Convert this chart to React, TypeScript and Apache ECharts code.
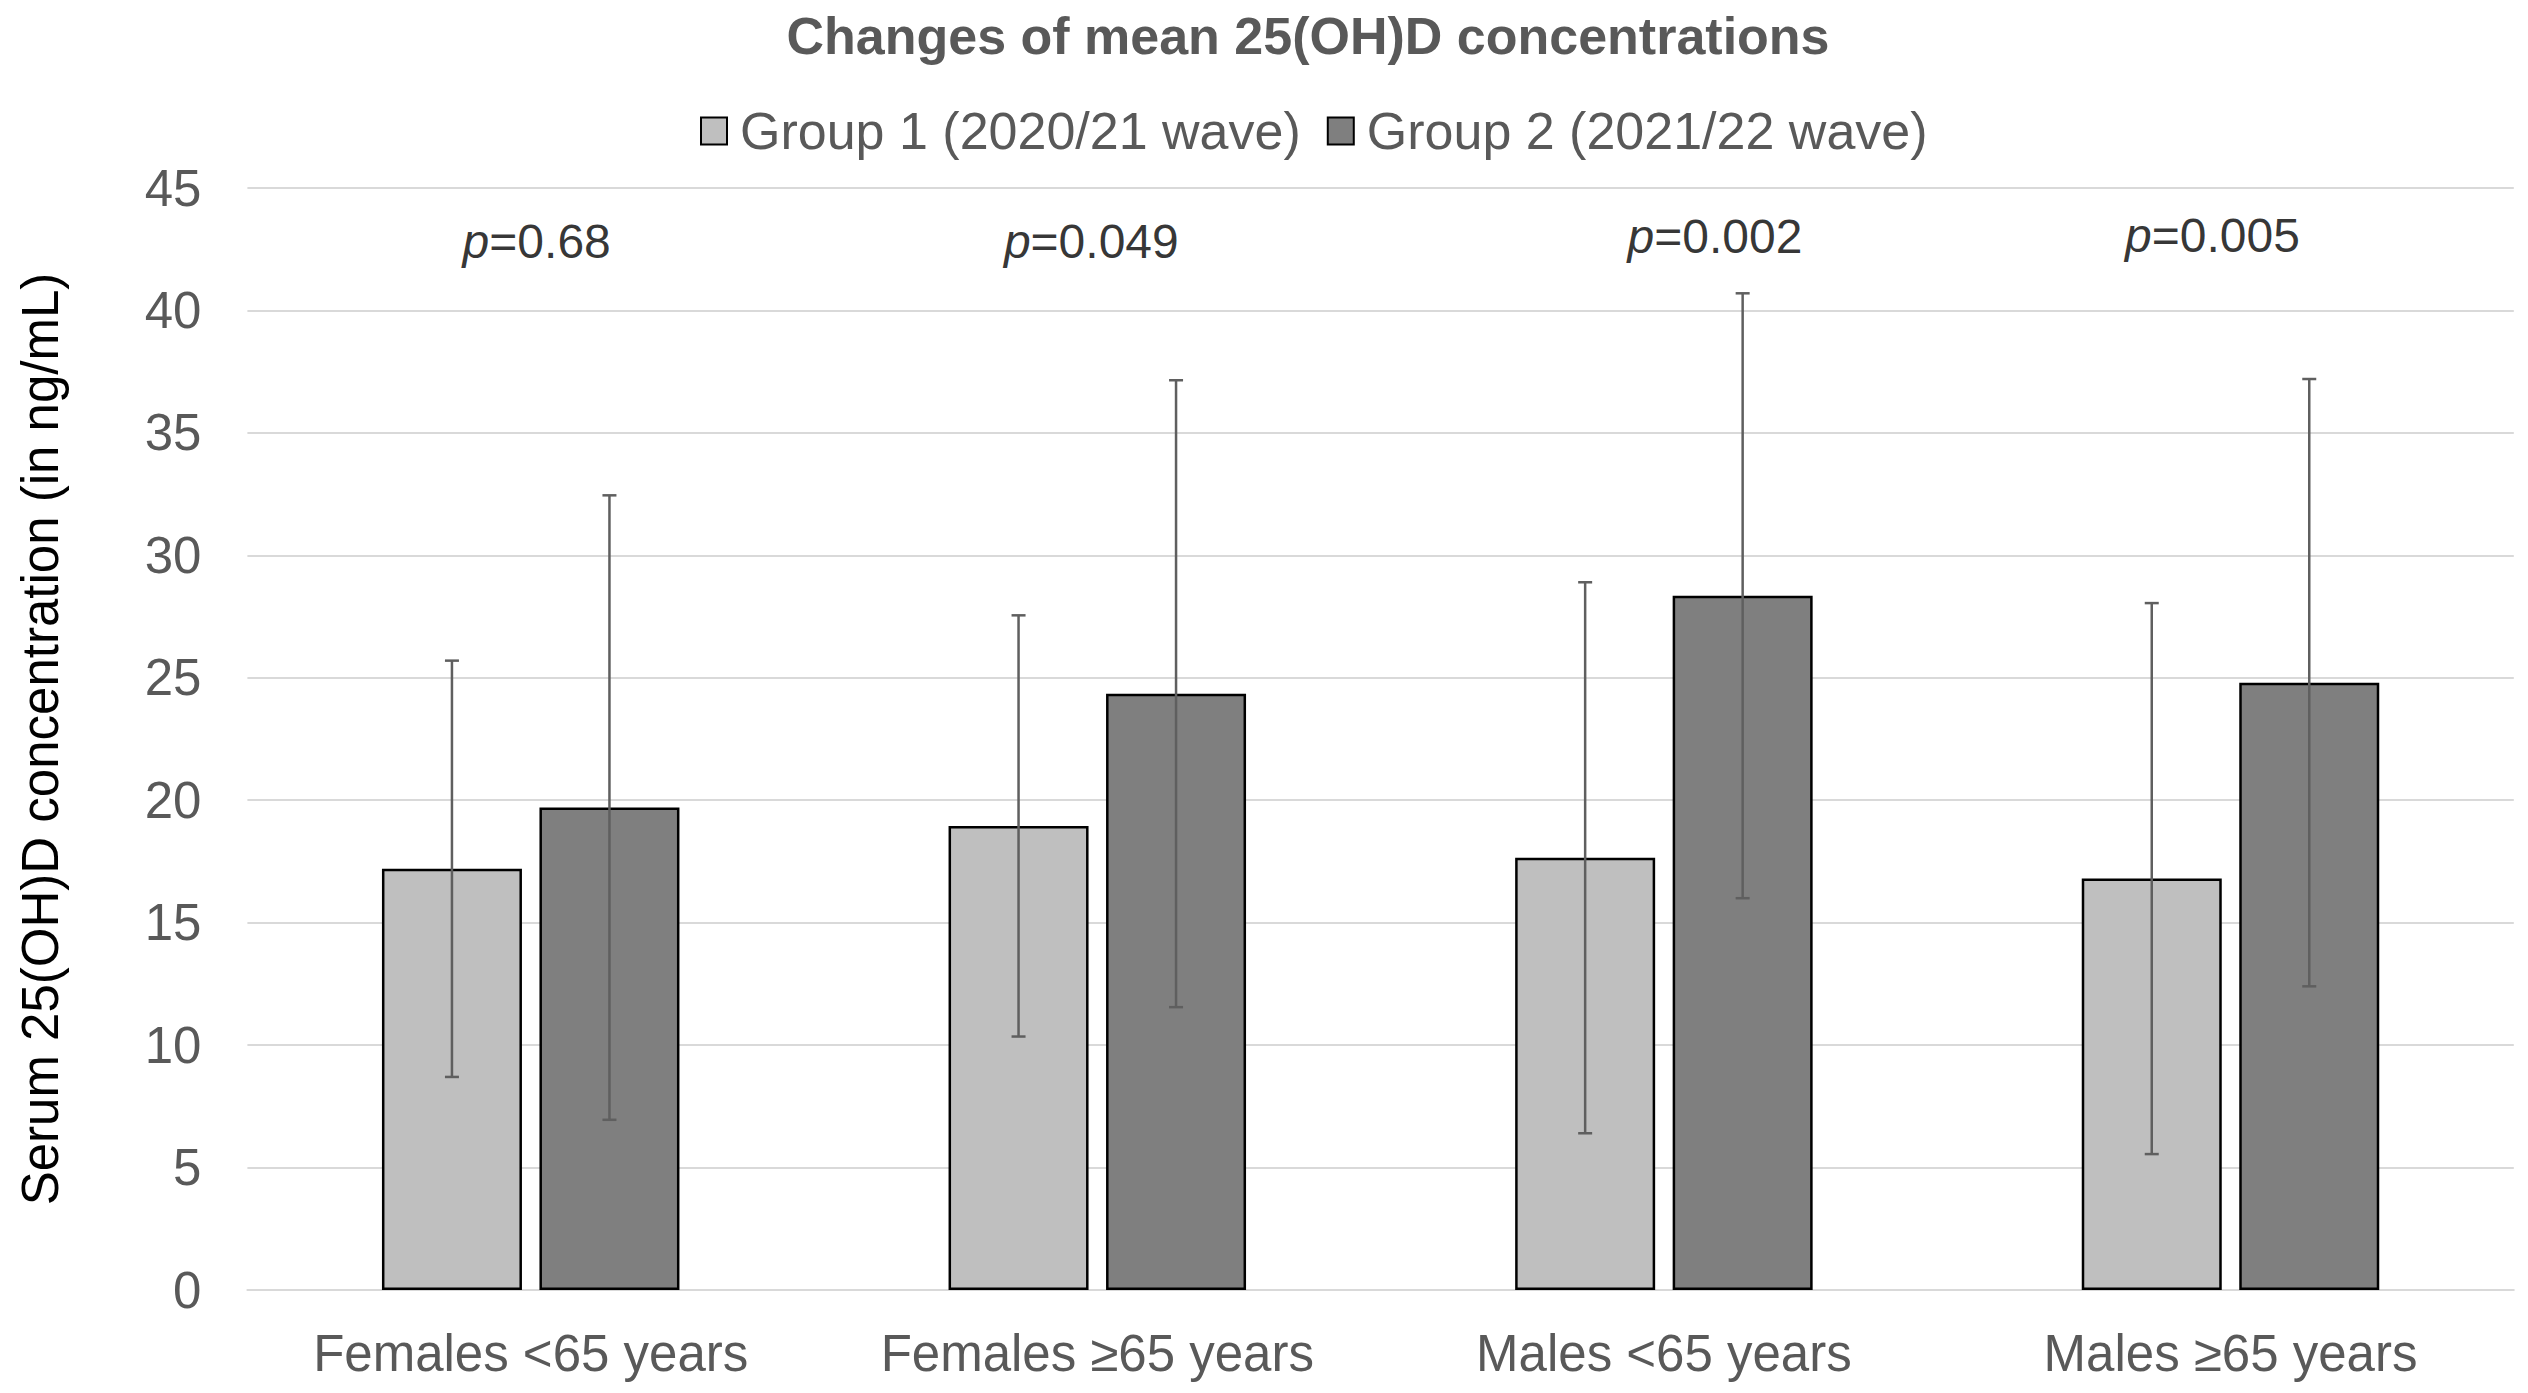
import React, { useEffect, useRef } from "react";
import * as echarts from "echarts";

const categories = ["Females <65 years", "Females ≥65 years", "Males <65 years", "Males ≥65 years"];
const seriesNames = ["Group 1 (2020/21 wave)", "Group 2 (2021/22 wave)"];
const group1Mean = [17.2, 18.95, 17.65, 16.8];
const group1SD = [8.5, 8.6, 11.25, 11.25];
const group2Mean = [19.7, 24.35, 28.35, 24.8];
const group2SD = [12.75, 12.8, 12.35, 12.4];
const pValues = ["0.68", "0.049", "0.002", "0.005"];
const yMin = 0;
const yMax = 45;
const yInterval = 5;

const FONT = '"Liberation Sans", Arial, sans-serif';
const BAR_W = 140;
const BAR_GAP = 0.125;

export default function App() {
  const ref = useRef<HTMLDivElement>(null);
  useEffect(() => {
    if (!ref.current) return;
    const chart = echarts.init(ref.current, null, { renderer: "svg" });
    const offset = (BAR_W + BAR_W * BAR_GAP) / 2;
    const errData = (mean: number[], sd: number[]) =>
      mean.map((m, i) => [i, m - sd[i], m + sd[i]]);
    const errSeries = (name: string, mean: number[], sd: number[], dir: number) => ({
      type: "custom",
      name: name + " SD",
      z: 5,
      silent: true,
      data: errData(mean, sd),
      encode: { x: 0, y: [1, 2] },
      renderItem: (params: any, api: any) => {
        const i = api.value(0);
        const lo = api.coord([i, api.value(1)]);
        const hi = api.coord([i, api.value(2)]);
        const x = lo[0] + dir * offset;
        const style = { stroke: "#5f5f5f", lineWidth: 2.5 };
        const cap = 7;
        return {
          type: "group",
          children: [
            { type: "line", shape: { x1: x, y1: lo[1], x2: x, y2: hi[1] }, style },
            { type: "line", shape: { x1: x - cap, y1: lo[1], x2: x + cap, y2: lo[1] }, style },
            { type: "line", shape: { x1: x - cap, y1: hi[1], x2: x + cap, y2: hi[1] }, style },
          ],
        };
      },
    });
    const pOffsets = [[6, 0], [-6, 0], [51, -5], [-18, -6]];
    const pY = 42.83;
    const option: any = {
      animation: false,
      backgroundColor: "#ffffff",
      textStyle: { fontFamily: FONT },
      title: {
        text: "Changes of mean 25(OH)D concentrations",
        left: 1303,
        top: 5,
        textAlign: "center",
        textStyle: { fontFamily: FONT, fontSize: 52, fontWeight: "bold", color: "#595959" },
      },
      legend: {
        data: seriesNames,
        left: 700,
        top: 105,
        padding: 0,
        icon: "rect",
        itemWidth: 26,
        itemHeight: 27,
        itemGap: 26,
        textStyle: { fontFamily: FONT, fontSize: 52, color: "#595959", padding: [0, 0, 0, 8] },
      },
      grid: { left: 247.4, right: 14.2, top: 188, bottom: 103, containLabel: false },
      xAxis: {
        type: "category",
        data: categories,
        axisTick: { show: false },
        axisLine: { show: true, lineStyle: { color: "#D9D9D9", width: 2 } },
        axisLabel: { fontFamily: FONT, fontSize: 51, color: "#595959", margin: 38 },
      },
      yAxis: {
        type: "value",
        min: yMin,
        max: yMax,
        interval: yInterval,
        name: "Serum 25(OH)D concentration (in ng/mL)",
        nameLocation: "middle",
        nameRotate: 90,
        nameGap: 181,
        nameTextStyle: { fontFamily: FONT, fontSize: 51, color: "#000000" },
        axisLine: { show: false },
        axisTick: { show: false },
        axisLabel: { fontFamily: FONT, fontSize: 51, color: "#595959", margin: 46 },
        splitLine: { lineStyle: { color: "#D9D9D9", width: 2 } },
      },
      series: [
        {
          type: "bar",
          name: seriesNames[0],
          data: group1Mean,
          barWidth: BAR_W,
          barGap: BAR_GAP * 100 + "%",
          itemStyle: { color: "#BFBFBF", borderColor: "#000000", borderWidth: 2.5 },
        },
        {
          type: "bar",
          name: seriesNames[1],
          data: group2Mean,
          barWidth: BAR_W,
          barGap: BAR_GAP * 100 + "%",
          itemStyle: { color: "#7F7F7F", borderColor: "#000000", borderWidth: 2.5 },
        },
        errSeries(seriesNames[0], group1Mean, group1SD, -1),
        errSeries(seriesNames[1], group2Mean, group2SD, 1),
        {
          type: "scatter",
          name: "p",
          symbolSize: 1,
          itemStyle: { color: "rgba(0,0,0,0)" },
          silent: true,
          z: 6,
          data: pValues.map((p, i) => ({
            value: [i, pY],
            label: {
              show: true,
              position: "inside",
              offset: pOffsets[i],
              formatter: "{i|p}{n|=" + p + "}",
              rich: {
                i: { fontFamily: FONT, fontSize: 48, fontStyle: "italic", color: "#000" },
                n: { fontFamily: FONT, fontSize: 48, color: "#000" },
              },
            },
          })),
        },
      ],
    };
    chart.setOption(option);
    return () => chart.dispose();
  }, []);
  return (
    <div
      ref={ref}
      style={{ position: "fixed", left: 0, top: 0, width: 2528, height: 1393, background: "#fff" }}
    />
  );
}
